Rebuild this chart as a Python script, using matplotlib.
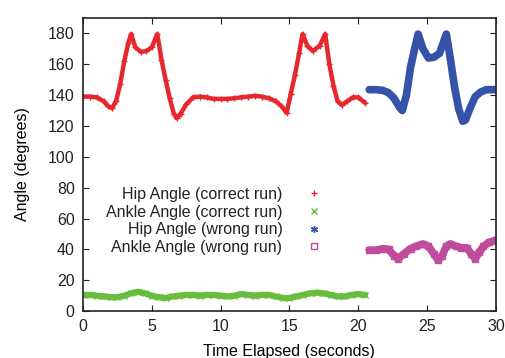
import matplotlib
matplotlib.use("Agg")
import matplotlib.pyplot as plt
from matplotlib.lines import Line2D

plt.rcParams['font.family'] = ['Liberation Sans', 'DejaVu Sans']

# Hip angle, correct run
hip_c_t = [0, 0.5, 1.0, 1.5, 1.8, 2.1, 2.4, 2.7, 3.0, 3.3, 3.5, 3.8, 4.2, 4.6, 5.0, 5.4,
           5.7, 6.0, 6.3, 6.6, 6.8, 7.1, 7.5, 8.0, 8.5, 9.0, 9.5, 10.0, 10.5, 11.0, 11.5,
           12.0, 12.5, 13.0, 13.5, 14.0, 14.4, 14.8, 15.1, 15.4, 15.7, 15.95, 16.3, 16.7,
           17.2, 17.6, 17.9, 18.2, 18.5, 18.8, 19.2, 19.6, 20.0, 20.5]
hip_c_v = [139, 139, 138.5, 136, 133, 131.5, 136, 147, 162, 174, 179.5, 171, 168, 168.5,
           171, 179.5, 163, 150, 138, 128, 125, 128, 134, 138.5, 139, 138.5, 137.5, 137.5,
           137.5, 138, 138.5, 139, 139.5, 139, 138, 136, 133, 128.5, 141, 153, 167, 179.5,
           172, 168.5, 172, 179.5, 160, 146, 136, 133.5, 136, 138.5, 138.5, 135]

# Ankle angle, correct run
ank_c_t = [i * 0.5 for i in range(42)]
ank_c_v = [10.5, 10.5, 10, 9.5, 9, 9, 10, 11.5, 12.5, 11.5, 10, 9, 8.5, 9.5, 10, 10.5,
           10.5, 10, 10.5, 10.5, 10, 9.5, 10, 11, 10.5, 10, 10.5, 10.5, 9.5, 8.5, 8.5,
           9.5, 10.5, 11.5, 12, 11.5, 10.5, 9.5, 9.5, 10.5, 11, 10.5]

# Hip angle, wrong run
hip_w_t = [20.8, 21.3, 21.8, 22.2, 22.6, 23.0, 23.2, 23.5, 23.8, 24.1, 24.35, 24.7, 25.1,
           25.5, 25.9, 26.4, 26.7, 27.0, 27.3, 27.6, 27.8, 28.1, 28.5, 28.9, 29.3, 29.7, 30.0]
hip_w_v = [143.5, 143.5, 143, 141.5, 138, 132, 130, 140, 158, 170, 179.5, 170, 164, 164.5,
           167, 179.5, 163, 145, 131, 123, 124, 131, 139, 142, 143.5, 143.5, 143.5]

# Ankle angle, wrong run
ank_w_t = [20.8, 21.3, 21.8, 22.2, 22.6, 22.9, 23.3, 23.8, 24.2, 24.7, 25.1, 25.5, 25.8,
           26.1, 26.4, 26.7, 27.1, 27.5, 27.9, 28.2, 28.5, 28.8, 29.1, 29.5, 30.0]
ank_w_v = [39.5, 39.5, 40.5, 40, 36, 34, 37, 40.5, 42, 43.5, 42, 37, 33, 36, 42, 43.5, 42,
           41, 41, 37, 34, 38, 42, 44.5, 46]

labels = ["Hip Angle (correct run)", "Ankle Angle (correct run)",
          "Hip Angle (wrong run)", "Ankle Angle (wrong run)"]
xticks = [0, 5, 10, 15, 20, 25, 30]
yticks = [0, 20, 40, 60, 80, 100, 120, 140, 160, 180]

c_red = '#e8262e'
c_green = '#66bd3e'
c_blue = '#3452a8'
c_pink = '#c04c9e'

fig = plt.figure(figsize=(5.06, 3.58), dpi=100)
ax = fig.add_axes([0.164, 0.131, 0.816, 0.819])

ax.plot(hip_c_t, hip_c_v, '-', color=c_red, lw=3.2, solid_capstyle='round')
ax.plot(hip_c_t, hip_c_v, '+', color=c_red, ms=5, mew=1)
ax.plot(ank_c_t, ank_c_v, '-', color=c_green, lw=4.5, solid_capstyle='round')
ax.plot(ank_c_t, ank_c_v, 'x', color=c_green, ms=4, mew=1)
ax.plot(hip_w_t, hip_w_v, '-', color=c_blue, lw=5.5, solid_capstyle='round')
ax.plot(ank_w_t, ank_w_v, '-', color=c_pink, lw=5.5, solid_capstyle='round')
ax.plot(ank_w_t, ank_w_v, 's', color=c_pink, ms=4, mfc='none', mew=1)

ax.set_xlim(0, 30)
ax.set_ylim(0, 190)
ax.set_xticks(xticks)
ax.set_yticks(yticks)
ax.tick_params(direction='in', length=4, width=0.8, top=True, right=True,
               labelsize=11.5, pad=6, colors='#222222')
for s in ax.spines.values():
    s.set_linewidth(1.2)
    s.set_color('#222222')

ax.set_xlabel("Time Elapsed (seconds)", fontsize=11.5, labelpad=7)
ax.set_ylabel("Angle (degrees)", fontsize=11.5, labelpad=13)

handles = [
    Line2D([], [], ls='none', marker='+', color=c_red, ms=5, mew=1),
    Line2D([], [], ls='none', marker='x', color=c_green, ms=4, mew=1),
    Line2D([], [], ls='none', marker=(6, 2, 0), color=c_blue, ms=5, mew=1),
    Line2D([], [], ls='none', marker='s', color=c_pink, ms=5, mfc='none', mew=1),
]
leg = ax.legend(handles, labels, loc='upper left', bbox_to_anchor=(0.04, 0.445),
                frameon=False, markerfirst=False, fontsize=11.5, handlelength=1.0,
                handletextpad=1.5, labelspacing=0.16, borderaxespad=0)
for t in leg.get_texts():
    t.set_ha('right')
    t.set_color('#222222')
leg._legend_box.align = "right"

fig.savefig("out.png", dpi=100)
